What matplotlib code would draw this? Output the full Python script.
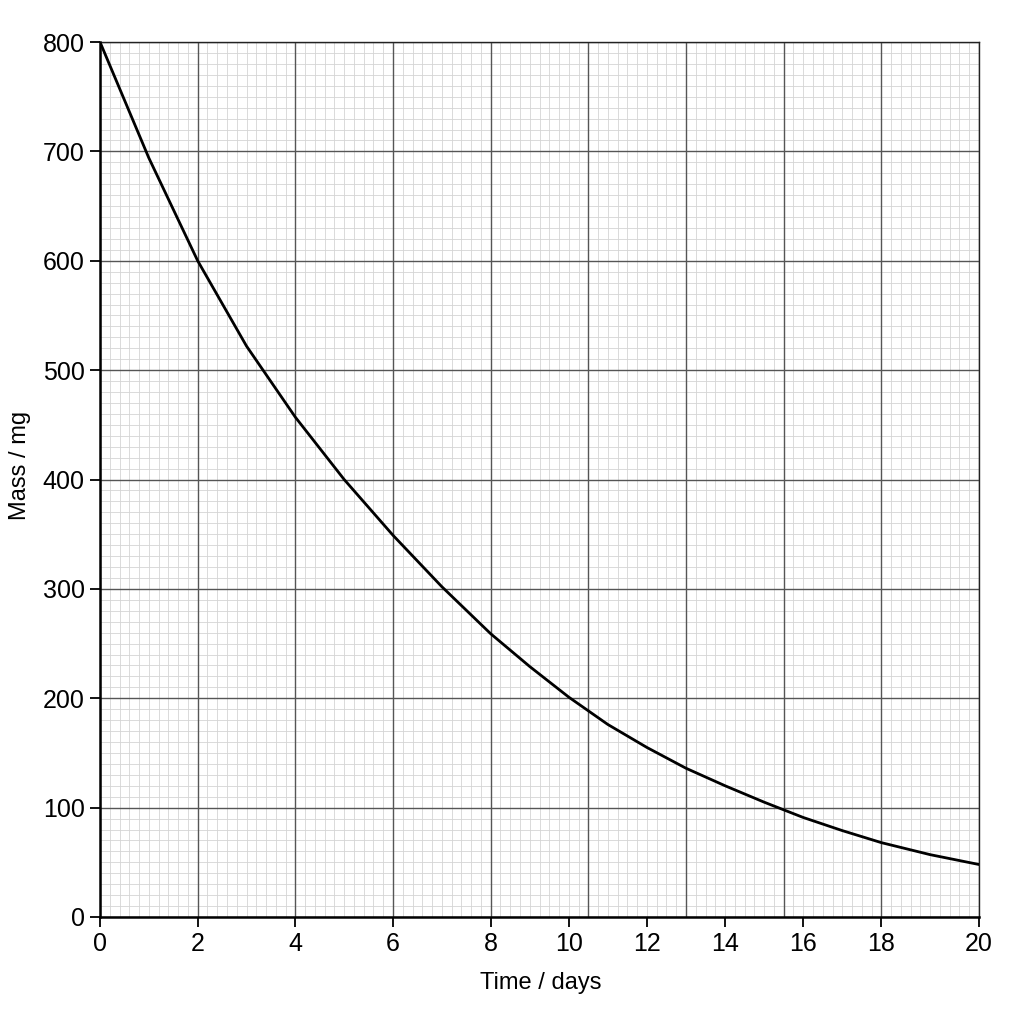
import numpy as np
import matplotlib
matplotlib.use("Agg")
import matplotlib.pyplot as plt

# values
days = [0, 1, 2, 3, 4, 5, 6, 7, 8, 9, 10, 11, 12, 13, 14, 15, 16, 17, 18, 19, 20]
mass = [800, 694, 600, 522, 457, 400, 349, 302, 259, 229, 201, 176, 155, 136,
        120, 105, 91, 79, 68, 57, 48]

x_ticks = [0, 2, 4, 6, 8, 10, 12, 14, 16, 18, 20]
y_ticks = [0, 100, 200, 300, 400, 500, 600, 700, 800]

plt.rcParams['font.family'] = ['Liberation Sans', 'DejaVu Sans']

# the grid paper has 9 equal major columns; tick labels sit on it unevenly
n_cols = 9
col = 20 / n_cols
tick_u = np.concatenate([np.arange(5) * col,
                         np.linspace(4 * col, 8 * col, 6)[1:],
                         [20.0]])


def forward(d):
    return np.interp(d, x_ticks, tick_u)


def inverse(u):
    return np.interp(u, tick_u, x_ticks)


fig = plt.figure(figsize=(10.24, 10.24), dpi=100)
ax = fig.add_axes([100 / 1024, 1 - 917 / 1024, 879 / 1024, 875 / 1024])
ax.set_xscale('function', functions=(forward, inverse))
ax.set_xlim(0, 20)
ax.set_ylim(0, 800)

# graph paper
for u in np.linspace(0, 20, n_cols * 10 + 1):
    major = abs(u / col - round(u / col)) < 1e-6
    ax.axvline(inverse(u), color='#555555' if major else '#d4d4d4',
               lw=1.0 if major else 0.6, zorder=1 if major else 0)
for v in np.arange(0, 801, 10):
    major = v % 100 == 0
    ax.axhline(v, color='#555555' if major else '#d4d4d4',
               lw=1.0 if major else 0.6, zorder=1 if major else 0)

ax.plot(days, mass, color='black', lw=2, zorder=3,
        solid_joinstyle='round', solid_capstyle='round')

ax.set_xticks(x_ticks)
ax.set_xticklabels([str(t) for t in x_ticks])
ax.set_xticks([], minor=True)
ax.set_yticks(y_ticks)
ax.tick_params(axis='both', direction='out', length=7, width=1.3,
               labelsize=18, pad=4, color='black')

for side in ['left', 'bottom']:
    ax.spines[side].set_linewidth(1.8)
for side in ['top', 'right']:
    ax.spines[side].set_linewidth(1.0)
    ax.spines[side].set_color('#222222')

fig.text(20 / 1024, 1 - 465 / 1024, 'Mass / mg', rotation=90,
         ha='center', va='center', fontsize=17)
fig.text(541 / 1024, 1 - 983 / 1024, 'Time / days',
         ha='center', va='center', fontsize=17)

fig.savefig('out.png', dpi=100)
